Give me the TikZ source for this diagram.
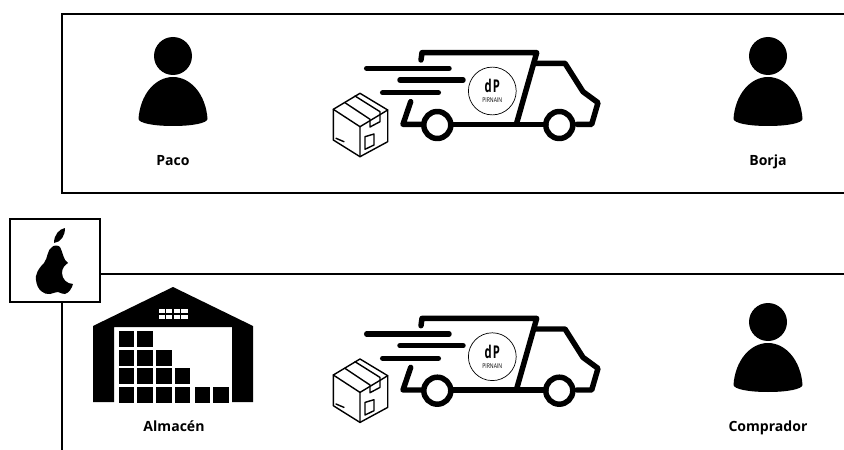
\documentclass[tikz,border=0pt]{standalone}
\usepackage{fontspec}
\setmainfont{Open Sans}
\usepackage{xcolor}
\usetikzlibrary{calc,positioning}
\tikzset{
  frameline/.style={line width=1.5pt,black},
  rotulo/.style={font=\fontsize{10}{11}\selectfont\bfseries,inner sep=0pt,anchor=base},
  truckline/.style={line width=3.9pt,line cap=round,line join=round},
  boxline/.style={line width=1pt,line join=round,line cap=round},
  person/.pic={
    \fill (0,-117) circle (19);
    \fill (-34.5,-54) .. controls (-33,-78) and (-18,-96) .. (0,-96)
      .. controls (18,-96) and (33,-78) .. (34.5,-54)
      .. controls (34,-50) and (20,-47) .. (0,-47)
      .. controls (-20,-47) and (-34,-50) .. (-34.5,-54) -- cycle;
  },
  truck/.pic={
    % lines of speed
    \draw[truckline] (46.7,-1.7) -- (129,-1.7);
    \draw[truckline] (80,10) -- (143,10);
    \draw[truckline] (62.7,22.7) -- (118.3,22.7);
    % body and cab
    \draw[truckline] (101,-10) -- (102,-17.3) -- (216.7,-17.3) -- (196.7,53);
    \draw[truckline] (214,-6.7) -- (245,-6.7) -- (263,21.7) -- (278,32.7) -- (271.7,54.3) -- (257,54.3);
    \draw[truckline] (90.7,31.7) -- (83,54.3) -- (101,54.3);
    \draw[truckline] (132,54.3) -- (226,54.3);
    \draw[truckline] (117.3,55) circle (13.5);
    \draw[truckline] (239.3,55) circle (13.5);
    % logo
    \node[draw,circle,line width=0.5pt,inner sep=0pt,minimum size=34pt] (logo) at (172.3,21) {};
    \node[inner sep=0pt,font=\fontsize{10}{11}\selectfont\bfseries] (logoDP) at (172.3,16)
      {\scalebox{0.8}[1.25]{d\kern1pt P}};
    \node[inner sep=0pt,font=\fontsize{3.6}{4}\selectfont] (logoTxt) at (172.3,30)
      {\scalebox{1}[1.3]{PIRNAIN}};
    % parcel
    \draw[boxline] (40,23.3) -- (13.3,39.3) -- (13.3,70) -- (40,86.7) -- (67.7,71.7) -- (67.7,40) -- cycle;
    \draw[boxline] (13.3,39.3) -- (40,56.7) -- (67.7,40) (40,56.7) -- (40,86.7);
    \draw[boxline] (25,32.7) -- (50,49.3) -- (50,57) -- (60,51.7) -- (60,41.7) -- (35,26);
    \draw[boxline] (45,66.7) -- (54,64) -- (54,75) -- (45,79.3) -- cycle;
    \draw[boxline] (16,68.3) -- (24,71.7);
  }
}
\begin{document}
\begin{tikzpicture}[x=0.25mm,y=-0.25mm]
  \useasboundingbox (0,0) rectangle (844,450);
  % upper frame
  \coordinate (esqA) at (62,14);
  \coordinate (esqB) at (846,193);
  \draw[frameline] (esqA) rectangle (esqB);
  \pic at (173,173) {person};
  \node[rotulo] (paco) at (173,165.5) {Paco};
  \pic (truckA) at (320,70) {truck};
  \pic at (768,173) {person};
  \node[rotulo] (borja) at (768,165.5) {Borja};
  % lower frame
  \node[draw,frameline,minimum width=90*0.25mm,minimum height=83*0.25mm,inner sep=0pt,
    fill=white] (pera) at (55,260.5) {};
  \coordinate (finA) at (844,274);
  \coordinate (finB) at (62,450);
  \draw[frameline] (pera.east |- finA) -- (finA);
  \draw[frameline] (finB |- pera.south) -- (finB);
  % pear
  \fill (52,247) .. controls (47,250) and (48,258) .. (44,263)
    .. controls (38,269) and (35,275) .. (36,280)
    .. controls (37,290) and (44,295) .. (50,294)
    .. controls (54,293) and (56,292) .. (58,292)
    .. controls (61,293) and (62,294) .. (65,294)
    .. controls (69,293) and (72,288) .. (73,284)
    .. controls (67,284) and (62,279) .. (62,273)
    .. controls (62,268) and (65,265) .. (68,263)
    .. controls (63,260) and (63,252) .. (60,247)
    .. controls (58,245) and (54,245) .. (52,247) -- cycle;
  \fill (54,243) .. controls (54,235) and (59,229) .. (65,228)
    .. controls (65,236) and (61,242) .. (54,243) -- cycle;
  % warehouse
  \fill (93,326) -- (173,287) -- (253,326) -- (253,402) -- (232,402) -- (232,327)
    -- (114,327) -- (114,402) -- (93,402) -- cycle;
  \foreach \fila/\cuantos in {331/2,350/3,368/4,387/4}
    \foreach \i in {1,...,\cuantos}
      \fill ({118.5+(\i-1)*18.7},\fila) rectangle +(15.6,15.6);
  \fill (194.5,387) rectangle +(15,15.6);
  \fill (213,387) rectangle +(15.6,15.6);
  \foreach \i in {0,...,3}
    \foreach \j in {0,1}
      \fill[white] ({158.5+\i*7.6},{308.5+\j*6}) rectangle +(6.2,4.8);
  \node[rotulo] (almacen) at (174,431) {Almacén};
  \pic (truckB) at (320,335.7) {truck};
  \pic at (768,439) {person};
  \node[rotulo] (comprador) at (768,431) {Comprador};
\end{tikzpicture}
\end{document}
